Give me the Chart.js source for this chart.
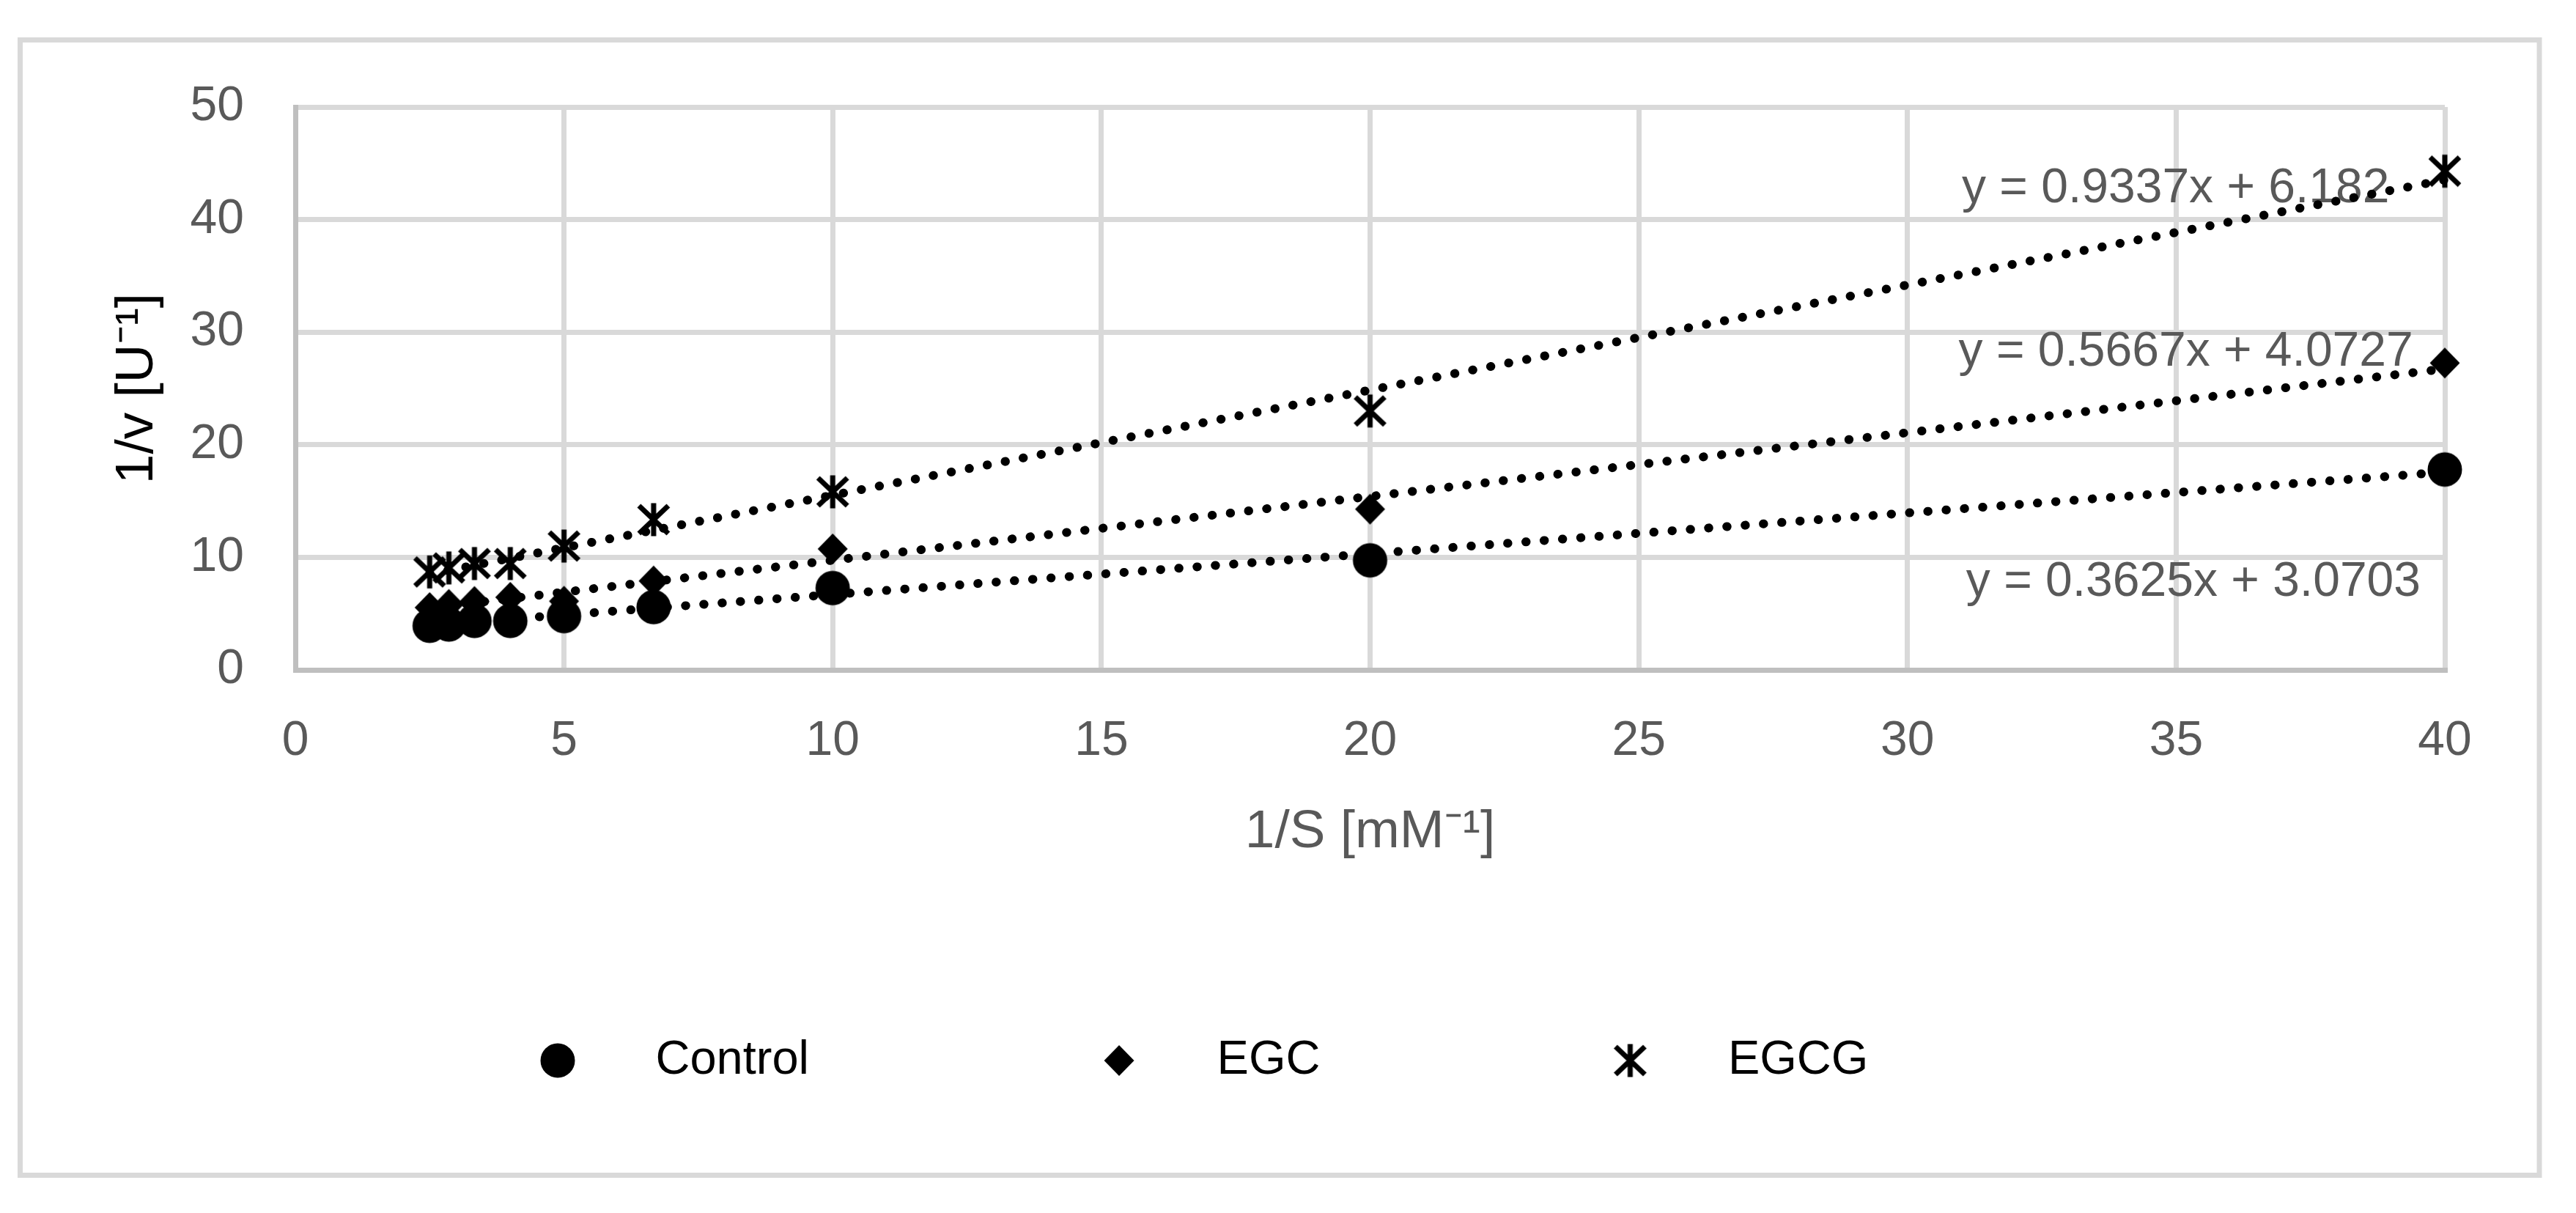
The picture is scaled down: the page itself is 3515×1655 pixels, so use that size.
<!DOCTYPE html>
<html>
<head>
<meta charset="utf-8">
<script src="https://cdn.jsdelivr.net/npm/chart.js@4.4.1/dist/chart.umd.min.js"></script>
<style>
html, body { margin: 0; padding: 0; background: #fff; }
#wrap { width: 3515px; height: 1655px; position: relative; }
</style>
</head>
<body>
<div id="wrap"><canvas id="myChart"></canvas></div>
<script>
// values
var invS = [2.5, 2.857, 3.333, 4, 5, 6.667, 10, 20, 40];
var control = [3.92, 4.03, 4.35, 4.35, 4.78, 5.58, 7.27, 9.73, 17.8];
var egc = [5.54, 5.82, 6.08, 6.45, 6.1, 7.9, 10.75, 14.28, 27.26];
var egcg = [8.7, 9.06, 9.45, 9.45, 11.0, 13.35, 15.82, 23.0, 44.3];
var seriesNames = ['Control', 'EGC', 'EGCG'];
// trend line equations shown on the chart
var slopes = [0.3625, 0.5667, 0.9337];
var intercepts = [3.0703, 4.0727, 6.182];
var xTickVals = [0, 5, 10, 15, 20, 25, 30, 35, 40];
var yTickVals = [0, 10, 20, 30, 40, 50];

var FONT = "'Liberation Sans', Arial, sans-serif";
var GREY = '#595959';

// marker pictures, drawn once
function makeMarker(kind, w, h, cx) {
  var c = document.createElement('canvas');
  c.width = w; c.height = h;
  var g = c.getContext('2d');
  var cy = h / 2;
  g.fillStyle = '#000';
  g.strokeStyle = '#000';
  if (kind == 'circle') {
    g.beginPath(); g.arc(cx, cy, 23.5, 0, Math.PI * 2); g.fill();
  } else if (kind == 'diamond') {
    g.beginPath();
    g.moveTo(cx, cy - 21); g.lineTo(cx + 20.5, cy); g.lineTo(cx, cy + 21); g.lineTo(cx - 20.5, cy);
    g.closePath(); g.fill();
  } else {
    g.lineWidth = 7;
    g.beginPath();
    g.moveTo(cx - 20, cy - 19); g.lineTo(cx + 20, cy + 19);
    g.moveTo(cx + 20, cy - 19); g.lineTo(cx - 20, cy + 19);
    g.moveTo(cx, cy - 22.5); g.lineTo(cx, cy + 22.5);
    g.stroke();
  }
  return c;
}
var kinds = ['circle', 'diamond', 'star'];
var pointMarks = kinds.map(function (k) { return makeMarker(k, 56, 56, 28); });
var legendMarks = kinds.map(function (k) { return makeMarker(k, 200, 56, 161); });

function toPoints(ys) {
  return invS.map(function (x, i) { return {x: x, y: ys[i]}; });
}
function trendPoints(i) {
  var x0 = invS[0], x1 = invS[invS.length - 1];
  return [{x: x0, y: slopes[i] * x0 + intercepts[i]}, {x: x1, y: slopes[i] * x1 + intercepts[i]}];
}

var allSeries = [control, egc, egcg];
var datasets = [];
allSeries.forEach(function (ys, i) {
  datasets.push({
    label: seriesNames[i],
    data: toPoints(ys),
    pointStyle: pointMarks[i],
    pointRadius: 23,
    showLine: false,
    clip: false
  });
});
allSeries.forEach(function (ys, i) {
  datasets.push({
    label: 'trend ' + seriesNames[i],
    data: trendPoints(i),
    showLine: true,
    borderColor: '#000',
    borderWidth: 12,
    borderDash: [0.5, 24.5],
    borderCapStyle: 'round',
    pointRadius: 0,
    fill: false,
    clip: false
  });
});

// outer frame and white background
var frame = {
  id: 'frame',
  beforeDraw: function (chart) {
    var ctx = chart.ctx;
    ctx.save();
    ctx.fillStyle = '#fff';
    ctx.fillRect(0, 0, chart.width, chart.height);
    ctx.strokeStyle = '#D9D9D9';
    ctx.lineWidth = 7;
    ctx.strokeRect(27.5, 54.5, 3437.5, 1549);
    ctx.restore();
  }
};

// legend row starts further right than the plot's left padding
var legendShift = {
  id: 'legendShift',
  afterLayout: function (chart) {
    if (chart.legend) chart.legend.left = 338;
  }
};

// trend line equations, placed in data units
var eqPos = [[39.55, 7.79], [39.41, 28.18], [38.97, 42.74]];
var equations = {
  id: 'equations',
  beforeDatasetsDraw: function (chart) {
    var ctx = chart.ctx, xs = chart.scales.x, ys = chart.scales.y;
    ctx.save();
    ctx.font = '66px ' + FONT;
    ctx.fillStyle = GREY;
    ctx.textAlign = 'right';
    ctx.textBaseline = 'middle';
    for (var i = 0; i < slopes.length; i++) {
      var txt = 'y = ' + slopes[i] + 'x + ' + intercepts[i];
      ctx.fillText(txt, xs.getPixelForValue(eqPos[i][0]), ys.getPixelForValue(eqPos[i][1]));
    }
    ctx.restore();
  }
};

var ctx = document.getElementById('myChart').getContext('2d');
var chart = new Chart(ctx, {
  type: 'scatter',
  data: {datasets: datasets},
  plugins: [frame, legendShift, equations],
  options: {
    responsive: true,
    maintainAspectRatio: false,
    devicePixelRatio: 1,
    animation: false,
    layout: {padding: {left: 100, right: 179, top: 146, bottom: 165.5}},
    plugins: {
      tooltip: {enabled: false},
      legend: {
        position: 'bottom',
        align: 'start',
        labels: {
          usePointStyle: true,
          pointStyleWidth: 324,
          padding: 200,
          color: '#000',
          font: {family: FONT, size: 65},
          generateLabels: function () {
            return seriesNames.map(function (n, i) {
              return {text: n, pointStyle: legendMarks[i], datasetIndex: i, hidden: false,
                lineWidth: 0, strokeStyle: 'rgba(0,0,0,0)', fillStyle: '#000', fontColor: '#000'};
            });
          }
        }
      }
    },
    scales: {
      x: {
        type: 'linear',
        min: 0, max: 40,
        afterBuildTicks: function (s) { s.ticks = xTickVals.map(function (v) { return {value: v}; }); },
        afterFit: function (s) { s.height = 300.5; },
        grid: {color: '#D9D9D9', lineWidth: 7, drawTicks: false},
        border: {color: '#BFBFBF', width: 7},
        ticks: {color: GREY, font: {family: FONT, size: 66}, padding: 58, maxRotation: 0},
        title: {display: true, text: '1/S [mM⁻¹]', color: GREY, font: {family: FONT, size: 73}, padding: {top: 0, bottom: 35}}
      },
      y: {
        type: 'linear',
        min: 0, max: 50,
        afterBuildTicks: function (s) { s.ticks = yTickVals.map(function (v) { return {value: v}; }); },
        afterFit: function (s) { s.width = 303; },
        grid: {color: '#D9D9D9', lineWidth: 7, drawTicks: false},
        border: {color: '#BFBFBF', width: 7},
        ticks: {color: GREY, font: {family: FONT, size: 66}, padding: 70},
        title: {display: true, text: '1/v [U⁻¹]', color: '#000', font: {family: FONT, size: 73}, padding: {top: 44, bottom: 0}}
      }
    }
  }
});
</script>
</body>
</html>
